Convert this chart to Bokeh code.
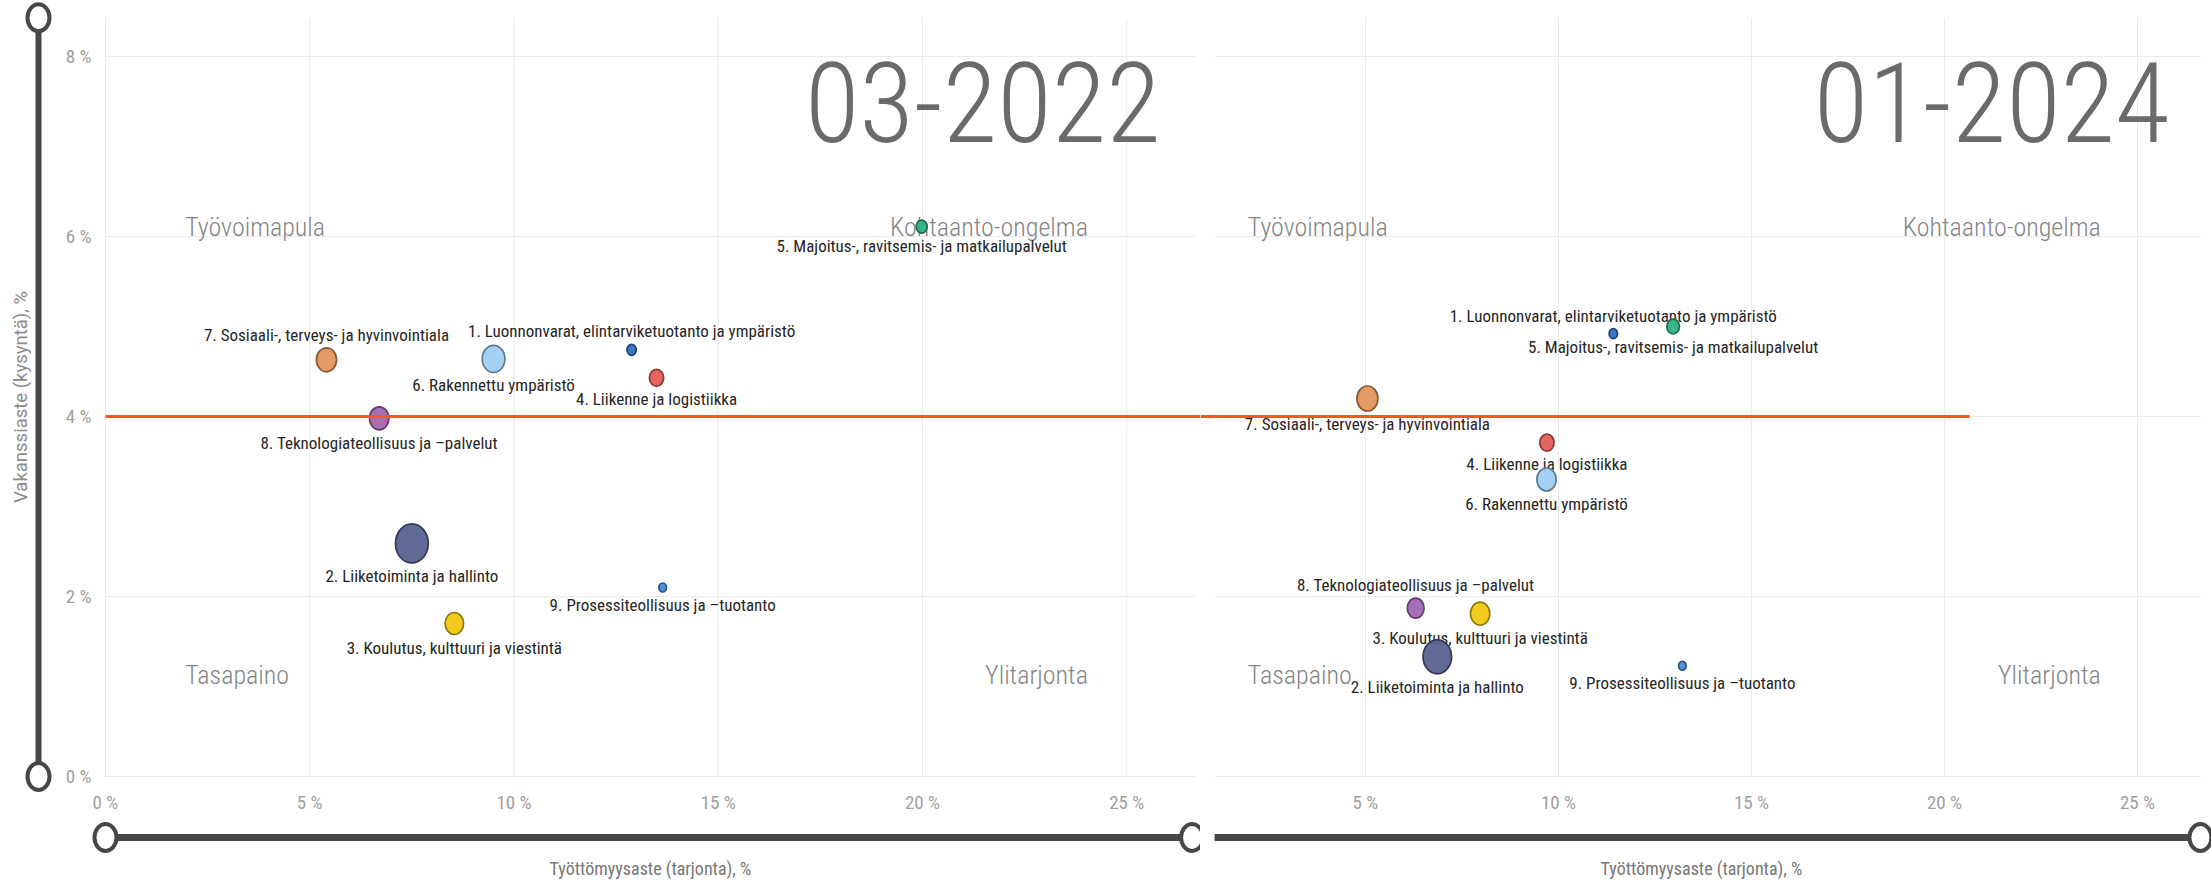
from bokeh.plotting import figure
from bokeh.models import LinearAxis, FixedTicker, Range1d, ColumnDataSource
from bokeh.layouts import row
from bokeh.core.properties import value
from bokeh.embed import file_html
from bokeh.resources import INLINE

# ---------------- data ----------------
categories = [
    "1. Luonnonvarat, elintarviketuotanto ja ympäristö",
    "2. Liiketoiminta ja hallinto",
    "3. Koulutus, kulttuuri ja viestintä",
    "4. Liikenne ja logistiikka",
    "5. Majoitus-, ravitsemis- ja matkailupalvelut",
    "6. Rakennettu ympäristö",
    "7. Sosiaali-, terveys- ja hyvinvointiala",
    "8. Teknologiateollisuus ja –palvelut",
    "9. Prosessiteollisuus ja –tuotanto",
]
periods = ["03-2022", "01-2024"]

unemployment_2022 = [12.88, 7.50, 8.54, 13.49, 19.98, 9.50, 5.41, 6.70, 13.64]
vacancy_2022 = [4.74, 2.59, 1.70, 4.43, 6.11, 4.64, 4.63, 3.98, 2.10]
bubble_size_2022 = [11, 39, 22, 17, 13, 27, 24, 23, 9]

unemployment_2024 = [11.42, 6.86, 7.97, 9.70, 12.97, 9.69, 5.05, 6.30, 13.21]
vacancy_2024 = [4.92, 1.33, 1.81, 3.71, 5.00, 3.30, 4.20, 1.87, 1.23]
bubble_size_2024 = [10, 34, 23, 17, 15, 23, 25, 20, 9]

quadrants = ["Työvoimapula", "Kohtaanto-ongelma", "Tasapaino", "Ylitarjonta"]
vacancy_threshold = 4.0
threshold_end_2024 = 20.65

x_ticks = [0, 5, 10, 15, 20, 25]
x_tick_labels = ["0 %", "5 %", "10 %", "15 %", "20 %", "25 %"]
y_ticks = [0, 2, 4, 6, 8]
y_tick_labels = ["0 %", "2 %", "4 %", "6 %", "8 %"]
x_title = "Työttömyysaste (tarjonta), %"
y_title = "Vakanssiaste (kysyntä), %"

# ---------------- styles / layout ----------------
COLORS = ["#3570c4", "#56628f", "#f2c811", "#e35d55", "#2db283",
          "#a0cff4", "#e3955e", "#a066b5", "#4a8ad8"]
SIDE_2022 = [-1, 1, 1, 1, 1, 1, -1, 1, 1]     # -1 label above, 1 below
SIDE_2024 = [-1, 1, 1, 1, 1, 1, 1, -1, 1]
ASPECT = 0.84
H = 885
X_MAX = 26.68          # visible x extent of the plot area
Y_MAX = 8.43           # visible y extent of the plot area
Y_RANGE = (-1.2111, 8.6222)
COND = "Roboto Condensed"
LIGHT = "Roboto Condensed Light"
Q_X = [1.95, 24.05, 1.95, 24.05]
Q_Y = [6.11, 6.11, 1.13, 1.13]
Q_ALIGN = ["left", "right", "left", "right"]
TITLE_X, TITLE_Y = 25.83, 7.49
SLIDER = "#474747"
ORANGE = "#ff5320"
GRID = "#ebebeb"
Y_SLIDER_X = -1.64
X_SLIDER_Y = -0.678


def darker(c, f=0.6):
    r, g, b = (int(c[i:i + 2], 16) for i in (1, 3, 5))
    return "#%02x%02x%02x" % (int(r * f), int(g * f), int(b * f))


EDGES = [darker(c) for c in COLORS]


def style_axis(ax):
    ax.axis_line_color = None
    ax.major_tick_line_color = None
    ax.minor_tick_line_color = None
    ax.major_tick_out = 0
    ax.major_tick_in = 0
    ax.major_label_standoff = 14
    ax.major_label_text_font = COND
    ax.major_label_text_font_size = "19px"
    ax.major_label_text_color = "#a0a0a0"
    ax.axis_label_text_font = COND
    ax.axis_label_text_font_size = "18px"
    ax.axis_label_text_font_style = "normal"
    ax.axis_label_text_color = "#777777"


def knobs(p, xs, ys):
    p.ellipse(x=xs, y=ys, width=22, height=27, width_units="screen",
              height_units="screen", fill_color="white", line_color=SLIDER,
              line_width=4)


def panel(period, xs, ys, sizes, sides, width, xr, plot_x0, plot_x1,
          with_y_axis, thr_x0, thr_x1):
    p = figure(width=width, height=H, x_range=Range1d(*xr),
               y_range=Range1d(*Y_RANGE), x_axis_type=None, y_axis_type=None,
               toolbar_location=None, output_backend="svg", title=None,
               min_border_left=0, min_border_right=0,
               min_border_top=0, min_border_bottom=0)
    p.outline_line_color = None
    p.background_fill_color = "white"
    p.border_fill_color = "white"

    # grid lines of the plot area
    vx = [t for t in x_ticks if plot_x0 <= t <= plot_x1]
    p.segment(x0=vx, y0=[0] * len(vx), x1=vx, y1=[Y_MAX] * len(vx),
              line_color=GRID, line_width=1)
    p.segment(x0=[plot_x0] * len(y_ticks), y0=y_ticks,
              x1=[plot_x1] * len(y_ticks), y1=y_ticks,
              line_color=GRID, line_width=1)

    # axes drawn at the data origin
    xt = FixedTicker(ticks=x_ticks)
    yt = FixedTicker(ticks=y_ticks)
    xa = LinearAxis(ticker=xt, axis_label=x_title, fixed_location=0,
                    bounds=(0, X_MAX),
                    major_label_overrides=dict(zip(x_ticks, x_tick_labels)))
    style_axis(xa)
    xa.axis_label_standoff = 41
    p.add_layout(xa, "below")
    if with_y_axis:
        ya = LinearAxis(ticker=yt, axis_label=y_title, fixed_location=0,
                        bounds=(0, Y_MAX),
                        major_label_overrides=dict(zip(y_ticks, y_tick_labels)))
        style_axis(ya)
        ya.axis_label_standoff = 31
        ya.axis_label_text_font = "Roboto"
        ya.axis_label_text_font_size = "18.5px"
        ya.axis_label_text_color = "#8c8c8c"
        p.add_layout(ya, "left")

    # period title
    p.text(x=[TITLE_X], y=[TITLE_Y], text=[period], text_align="right",
           text_baseline="middle", text_font=value(LIGHT),
           text_font_size="112px", text_color="#6a6a6a")
    # quadrant names
    p.text(x=Q_X, y=Q_Y, text=quadrants, text_align=Q_ALIGN,
           text_baseline="middle", text_font=value(LIGHT),
           text_font_size="26px", text_color="#858585")

    src = ColumnDataSource(dict(
        x=xs, y=ys, h=sizes, w=[s * ASPECT for s in sizes], color=COLORS,
        edge=EDGES, label=categories,
        off=[sd * (s / 2 + 13) for sd, s in zip(sides, sizes)]))
    p.text(x="x", y="y", text="label", y_offset="off", text_align="center",
           text_baseline="middle", text_font=value(COND),
           text_font_size="17px", text_color="#262626", source=src)
    p.ellipse(x="x", y="y", width="w", height="h", width_units="screen",
              height_units="screen", fill_color="color", fill_alpha=0.95,
              line_color="edge", line_width=1.7, source=src)

    # threshold line (drawn over the bubbles)
    p.segment(x0=[thr_x0], y0=[vacancy_threshold], x1=[thr_x1],
              y1=[vacancy_threshold], line_color=ORANGE, line_width=3)

    # range slider (decoration) under the x axis
    p.segment(x0=[plot_x0], y0=[X_SLIDER_Y], x1=[plot_x1 - 0.08],
              y1=[X_SLIDER_Y], line_color=SLIDER, line_width=7)
    if with_y_axis:
        knobs(p, [0, plot_x1 - 0.08], [X_SLIDER_Y] * 2)
        p.segment(x0=[Y_SLIDER_X], y0=[0], x1=[Y_SLIDER_X], y1=[Y_MAX],
                  line_color=SLIDER, line_width=6)
        knobs(p, [Y_SLIDER_X] * 2, [0, Y_MAX])
    else:
        knobs(p, [plot_x1], [X_SLIDER_Y])
    return p


left = panel(periods[0], unemployment_2022, vacancy_2022, bubble_size_2022,
             SIDE_2022, 1200, (-2.5704, 26.806), 0, X_MAX, True,
             0, 26.806)
right = panel(periods[1], unemployment_2024, vacancy_2024, bubble_size_2024,
              SIDE_2024, 1011, (0.7254, 26.917), 1.09, 26.63, False,
              0.7254, threshold_end_2024)

layout = row(left, right)
open("out.html", "w").write(file_html(layout, INLINE))
